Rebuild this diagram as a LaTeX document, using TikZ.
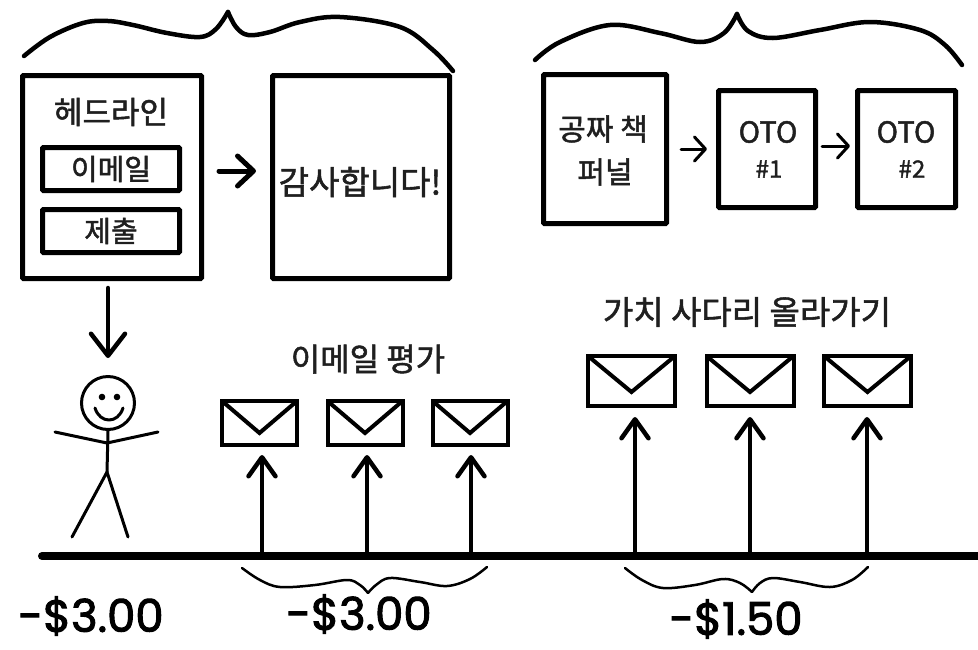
\documentclass[tikz,border=0pt]{standalone}
\usepackage{fontspec}
\setmainfont{Noto Sans CJK KR}
\newfontfamily\krfont{Noto Sans CJK KR}[FakeBold=1.6]
\newfontfamily\pricefont{Poppins}[FakeBold=2.2]
\usetikzlibrary{arrows.meta}

\tikzset{
  box/.style={draw, line width=5pt, rectangle, rounded corners=1pt, inner sep=0pt},
  envelope/.style={draw, line width=4pt, rectangle, inner sep=0pt},
  txt/.style={inner sep=0pt, text=black!88},
  price/.style={inner sep=0pt, font=\pricefont\fontsize{45}{45}\selectfont},
  bigarrow/.style={line width=5pt, line cap=round, -{Straight Barb[length=16pt,width=30pt,round]}},
  smallarrow/.style={line width=3pt, line cap=round, -{Straight Barb[length=11pt,width=24pt,round]}},
  downarrow/.style={line width=4.5pt, line cap=round, -{Straight Barb[length=22pt,width=34pt,round]}},
  uparrow/.style={line width=4.5pt, -{Straight Barb[length=19pt,width=27pt,round]}},
  bracebig/.style={line width=4.5pt, line cap=round, line join=round},
  bracesmall/.style={line width=2.5pt, line cap=round, line join=round},
  stick/.style={line width=3pt, line cap=round, line join=round},
  vfold/.style={line width=4pt, line join=miter, line cap=butt},
}

\begin{document}
\begin{tikzpicture}[x=1pt, y=-1pt]
\useasboundingbox (0,0) rectangle (978,649);

% ---- opt-in page and thank-you page ----
\node[box, minimum width=179pt, minimum height=203pt] (optin) at (112,177) {};
\node[txt, font=\krfont\fontsize{31}{31}\selectfont] (headline) at (111,112) {헤드라인};
\node[box, minimum width=137pt, minimum height=43pt, font=\krfont\fontsize{29}{29}\selectfont, text=black!88] (emailfield) at (111,169) {이메일};
\node[box, minimum width=137pt, minimum height=43pt, font=\krfont\fontsize{29}{29}\selectfont, text=black!88] (submit) at (111,231) {제출};

\node[box, minimum width=177pt, minimum height=203pt] (thanks) at (361,177) {};
\node[txt, font=\krfont\fontsize{33}{33}\selectfont] (thankstext) at (360,182) {감사합니다!};

\draw[bigarrow, shorten <=15pt, shorten >=14pt] ([yshift=6pt]optin.east) -- ([yshift=6pt]thanks.west);

% ---- free book funnel and OTO pages ----
\node[box, minimum width=123pt, minimum height=149pt] (funnel) at (605,149) {};
\node[txt, font=\krfont\fontsize{30}{30}\selectfont] (funnelA) at (603,129) {공짜 책};
\node[txt, font=\krfont\fontsize{30}{30}\selectfont] (funnelB) at (605,172) {퍼널};

\node[box, minimum width=97pt, minimum height=117pt] (otoA) at (767,149) {};
\node[txt, font=\krfont\fontsize{29}{29}\selectfont] (otoAtitle) at (768,132) {OTO};
\node[txt, font=\krfont\fontsize{24}{24}\selectfont] (otoAnum) at (769,169) {\#1};

\node[box, minimum width=98pt, minimum height=117pt] (otoB) at (906.5,149) {};
\node[txt, font=\krfont\fontsize{29}{29}\selectfont] (otoBtitle) at (906,132) {OTO};
\node[txt, font=\krfont\fontsize{24}{24}\selectfont] (otoBnum) at (912,169) {\#2};

\draw[smallarrow, shorten <=12pt, shorten >=9pt] (funnel.east) -- (funnel.east -| otoA.west);
\draw[smallarrow, shorten <=4pt, shorten >=5pt] ([yshift=3pt]otoA.east) -- ([yshift=3pt]otoB.west);

% ---- braces over the two groups ----
\draw[bracebig] plot[smooth, tension=0.6] coordinates {(24,56) (50,37) (83,23) (108,21) (133,25) (167,33) (200,37) (216,29) (228,12)};
\draw[bracebig] plot[smooth, tension=0.6] coordinates {(228,12) (236,27) (248,35) (270,32) (300,22) (340,17) (400,27) (433,50) (453,71)};

\draw[bracebig] plot[smooth, tension=0.6] coordinates {(535,60) (560,42) (610,25) (660,33) (700,42) (724,33) (737,14)};
\draw[bracebig] plot[smooth, tension=0.6] coordinates {(737,14) (748,31) (773,38) (820,30) (870,22) (920,30) (945,45) (962,65)};

% ---- visitor ----
\node[draw, circle, line width=3pt, minimum size=53pt, inner sep=0pt] (face) at (108,403) {};
\fill (102,397) circle (3.3pt) (117,397) circle (3.3pt);
\draw[stick] (95,408) .. controls (100,424) and (118,424) .. (123,408);
\coordinate (hip) at (107,472);
\draw[stick] (face.south) -- (hip);
\draw[stick] (55,432) -- (107,443) -- (158,432);
\draw[stick] (72,537) -- (hip) -- (128,537);

\draw[downarrow, shorten <=7pt, shorten >=17pt] (optin.south -| face.north) -- (face.north);

% ---- timeline ----
\coordinate (tlstart) at (42,556);
\coordinate (tlend) at (985,556);
\draw[line width=8pt, line cap=round] (tlstart) -- (tlend);

% ---- email sequence ----
\node[txt, font=\krfont\fontsize{32}{32}\selectfont] (evaltitle) at (368,359) {이메일 평가};
\foreach \n/\x in {1/259.5, 2/365, 3/470} {
  \node[envelope, minimum width=75pt, minimum height=44pt] (e\n) at (\x,423) {};
  \draw[vfold] ([xshift=2pt,yshift=-2pt]e\n.north west) -- ([yshift=-10pt]e\n.center) -- ([xshift=-2pt,yshift=-2pt]e\n.north east);
}
\foreach \n/\x in {1/262, 2/367, 3/471} {
  \coordinate (b\n) at (\x,556);
  \draw[uparrow, shorten >=8pt] (b\n) -- (b\n |- e\n.south);
}

% ---- value ladder ----
\node[txt, font=\krfont\fontsize{33}{33}\selectfont] (laddertitle) at (747,312) {가치 사다리 올라가기};
\foreach \n/\x in {4/631.5, 5/750, 6/867.5} {
  \node[envelope, minimum width=87pt, minimum height=50pt] (e\n) at (\x,381) {};
  \draw[vfold] ([xshift=2pt,yshift=-2pt]e\n.north west) -- ([yshift=-11pt]e\n.center) -- ([xshift=-2pt,yshift=-2pt]e\n.north east);
}
\foreach \n/\x in {4/635, 5/750, 6/867} {
  \coordinate (b\n) at (\x,556);
  \draw[uparrow, shorten >=9pt] (b\n) -- (b\n |- e\n.south);
}

% ---- braces under the timeline ----
\draw[bracesmall] plot[smooth, tension=0.6] coordinates {(242,568) (260,580) (280,587) (315,585) (347,580) (360,585) (368,593)};
\draw[bracesmall] plot[smooth, tension=0.6] coordinates {(368,593) (376,585) (390,578) (420,582) (447,586) (470,579) (487,567)};

\draw[bracesmall] plot[smooth, tension=0.6] coordinates {(625,568) (642,580) (663,588) (695,585) (723,579) (740,583) (752,592)};
\draw[bracesmall] plot[smooth, tension=0.6] coordinates {(752,592) (760,583) (773,578) (800,582) (830,587) (852,580) (868,567)};

% ---- costs ----
\node[price] (costA) at (91,616) {-\$3.00};
\node[price] (costB) at (359,614) {-\$3.00};
\node[price] (costC) at (736,619) {-\$1.50};
\end{tikzpicture}
\end{document}
